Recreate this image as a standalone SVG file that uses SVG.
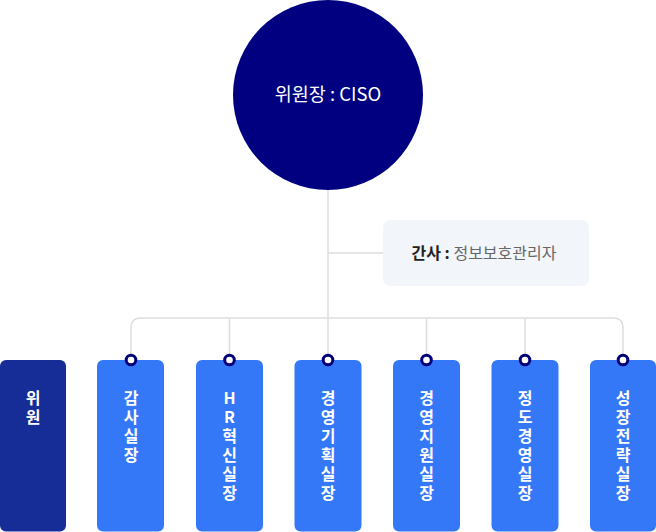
<svg xmlns="http://www.w3.org/2000/svg" width="656" height="532" viewBox="0 0 656 532">
<style>
.ln{fill:none;stroke:#dedede;stroke-width:1.5}
.box{fill:#3478f7}
.vt{font-family:"Noto Sans CJK KR","Noto Sans",sans-serif;font-size:16px;font-weight:700;fill:#fff;writing-mode:vertical-rl;text-orientation:upright;letter-spacing:3px}
.dot{fill:#fff;stroke:#00007a;stroke-width:3}
</style>
<rect width="656" height="532" fill="#fff"/>
<g id="connectors">
<path class="ln" d="M328,188 V360"/>
<path class="ln" d="M328,253 H383"/>
<path class="ln" d="M131,360 V328 Q131,318 141,318 H613 Q623,318 623,328 V360"/>
<path class="ln" d="M229.5,318 V360"/>
<path class="ln" d="M426.5,318 V360"/>
<path class="ln" d="M525,318 V360"/>
</g>
<g id="ciso">
<circle cx="328" cy="95" r="95" fill="#000080"/>
<text x="328" y="101" text-anchor="middle" font-family="'Noto Sans CJK KR','Noto Sans',sans-serif" font-size="18.5" fill="#fff">위원장 : CISO</text>
</g>
<g id="gansa">
<rect x="383" y="220" width="206" height="66" rx="7" fill="#f2f5f9"/>
<text x="484" y="259" text-anchor="middle" font-family="'Noto Sans CJK KR','Noto Sans',sans-serif" font-size="16" fill="#666"><tspan font-weight="700" fill="#222">간사 : </tspan> 정보보호관리자</text>
</g>
<g id="wiwon">
<rect x="0" y="360" width="66" height="171.5" rx="6" fill="#162c96"/>
<text class="vt" x="33" y="390">위원</text>
</g>
<g id="gamsa">
<rect class="box" x="97" y="360" width="67" height="171.5" rx="6"/>
<circle class="dot" cx="131" cy="360" r="4.8"/>
<text class="vt" x="131" y="390">감사실장</text>
</g>
<g id="hr">
<rect class="box" x="196" y="360" width="67" height="171.5" rx="6"/>
<circle class="dot" cx="229.5" cy="360" r="4.8"/>
<text class="vt" x="229.5" y="390">HR혁신실장</text>
</g>
<g id="planning">
<rect class="box" x="294.5" y="360" width="67" height="171.5" rx="6"/>
<circle class="dot" cx="328" cy="360" r="4.8"/>
<text class="vt" x="328" y="390">경영기획실장</text>
</g>
<g id="support">
<rect class="box" x="393" y="360" width="67" height="171.5" rx="6"/>
<circle class="dot" cx="426.5" cy="360" r="4.8"/>
<text class="vt" x="426.5" y="390">경영지원실장</text>
</g>
<g id="ethics">
<rect class="box" x="491.5" y="360" width="67" height="171.5" rx="6"/>
<circle class="dot" cx="525" cy="360" r="4.8"/>
<text class="vt" x="525" y="390">정도경영실장</text>
</g>
<g id="growth">
<rect class="box" x="590" y="360" width="66" height="171.5" rx="6"/>
<circle class="dot" cx="623" cy="360" r="4.8"/>
<text class="vt" x="623" y="390">성장전략실장</text>
</g>
</svg>
